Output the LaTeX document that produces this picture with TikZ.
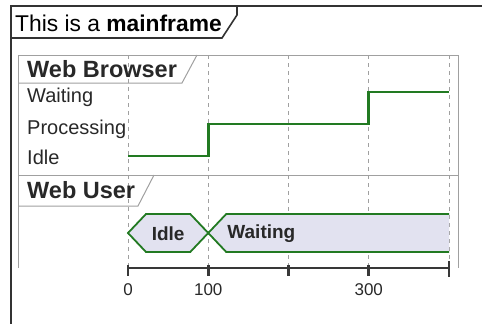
\documentclass[tikz,border=0pt]{standalone}
\usepackage{fontspec}
\setmainfont{Liberation Sans}
\usetikzlibrary{calc}
\definecolor{sigline}{RGB}{34,122,34}
\definecolor{statefill}{RGB}{226,226,240}
\definecolor{panelgray}{RGB}{160,160,160}
\definecolor{txtgray}{RGB}{40,40,40}
\def\tzero{128}
\def\tunit{80.25}
\def\hexh{19}
\def\hexs{18}

\begin{document}
\begin{tikzpicture}[x=1pt, y=-1pt,
    lbl/.style={anchor=base west, inner sep=0pt, text=txtgray, font=\fontsize{20}{20}\selectfont},
    hdr/.style={anchor=base west, inner sep=0pt, text=txtgray, font=\fontsize{23.5}{24}\selectfont\bfseries},
    ticklbl/.style={anchor=base, inner sep=0pt, text=txtgray, font=\fontsize{17}{17}\selectfont},
    statelbl/.style={inner sep=0pt, text=txtgray, font=\fontsize{19}{20}\selectfont\bfseries},
    grid/.style={draw=panelgray, dash pattern=on 4pt off 4pt, line width=0.8pt},
    panel/.style={draw=panelgray, line width=1pt},
    state/.style={draw=sigline, fill=statefill, line width=1.8pt, line join=miter},
  ]
  \useasboundingbox (0,0) rectangle (482,324);

  % the mainframe
  \draw[line width=2pt, black!80] (11,324) -- (11,6) -- (482,6);
  \draw[line width=1.6pt, black!80] (11,38) -- (222,38) -- (237,15) -- (237,6);
  \node[anchor=base west, inner sep=0pt, font=\fontsize{22.8}{23}\selectfont] (title) at (15,31) {This is a \textbf{mainframe}};

  % time grid
  \foreach \i in {0,...,4}
    \coordinate (t\i) at ({\tzero+\i*\tunit},0);
  \foreach \i in {0,...,4}
    \draw[grid] (t\i |- 0,55) -- (t\i |- 0,266);

  % panels
  \draw[panel] (18,268) -- (18,55) -- (458,55) -- (458,268);
  \draw[panel] (18,83) -- (182,83) -- (197,55);
  \draw[panel] (18,175) -- (458,175);
  \draw[panel] (18,206) -- (138,206) -- (154,175);
  \node[hdr] (browser) at (27,77) {Web Browser};
  \node[hdr] (user) at (27,198) {Web User};

  % Web Browser states
  \node[lbl] (waiting) at (27,102) {Waiting};
  \node[lbl] (processing) at (27,134) {Processing};
  \node[lbl] (idle) at (27,164) {Idle};
  \draw[sigline, line width=2.8pt, line join=miter]
    (t0 |- 0,156) -- (t1 |- 0,156) -- (t1 |- 0,124) -- (t3 |- 0,124)
    -- (t3 |- 0,92) -- (t4 |- 0,92);

  % Web User states
  \coordinate (u) at (0,233);
  \fill[statefill] ($(t1 |- u)$) -- ++(\hexs,-\hexh) -- (t4 |- 0,214) -- (t4 |- 0,252) -- ($(t1 |- u)+(\hexs,\hexh)$) -- cycle;
  \draw[sigline, line width=1.8pt] (t4 |- 0,214) -- ($(t1 |- u)+(\hexs,-\hexh)$) -- (t1 |- u)
    -- ($(t1 |- u)+(\hexs,\hexh)$) -- (t4 |- 0,252);
  \draw[state] (t0 |- u) -- ++(\hexs,-\hexh) -- ($(t1 |- u)+(-\hexs,-\hexh)$) -- (t1 |- u)
    -- ($(t1 |- u)+(-\hexs,\hexh)$) -- ($(t0 |- u)+(\hexs,\hexh)$) -- cycle;
  \node[statelbl] (uidle) at ($(t0 |- u)!0.5!(t1 |- u)+(0,1)$) {Idle};
  \node[statelbl, anchor=west] (uwaiting) at ($(t1 |- u)+(\hexs+1,1)$) {Waiting};

  % time axis
  \draw[line width=2.6pt, black!78] (t0 |- 0,268) -- (t4 |- 0,268);
  \foreach \i in {0,...,3}
    \draw[line width=2.6pt, black!78] (t\i |- 0,265) -- (t\i |- 0,276);
  \draw[line width=2.6pt, black!78] (t4 |- 0,261) -- (t4 |- 0,277);
  \node[ticklbl] (lbl0) at (t0 |- 0,295) {0};
  \node[ticklbl] (lbl100) at (t1 |- 0,295) {100};
  \node[ticklbl] (lbl300) at (t3 |- 0,295) {300};
\end{tikzpicture}
\end{document}
